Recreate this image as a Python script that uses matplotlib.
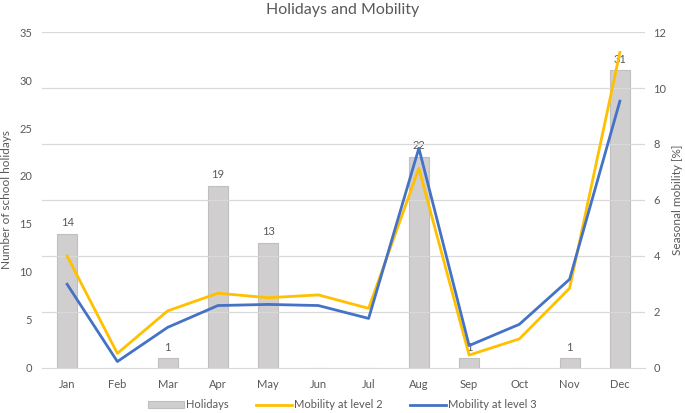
import numpy as np
import matplotlib
matplotlib.use("Agg")
import matplotlib.pyplot as plt

months = ['Jan', 'Feb', 'Mar', 'Apr', 'May', 'Jun', 'Jul', 'Aug', 'Sep', 'Oct', 'Nov', 'Dec']
holidays = [14, 0, 1, 19, 13, 0, 0, 22, 1, 0, 1, 31]
mobility_l2 = [4.0, 0.52, 2.04, 2.67, 2.51, 2.61, 2.13, 7.13, 0.46, 1.04, 2.85, 11.27]
mobility_l3 = [2.99, 0.23, 1.45, 2.23, 2.27, 2.23, 1.77, 7.85, 0.80, 1.56, 3.17, 9.53]

plt.rcParams['font.family'] = ['Lato', 'DejaVu Sans']
txt = '#595959'
grid = '#d9d9d9'

fig = plt.figure(figsize=(6.85, 4.13), dpi=100)
ax = fig.add_axes([0.0613, 0.109, 0.8803, 0.8135])
ax2 = ax.twinx()

x = np.arange(len(months))
bars = ax.bar(x, holidays, width=0.4, color='#d0cece', edgecolor='#bfbfbf',
              linewidth=0.8, label='Holidays', zorder=2)
for xi, h in zip(x, holidays):
    if h > 0:
        ax.text(xi, h + 0.6, str(h), ha='center', va='bottom', fontsize=8, color=txt, zorder=1)

l2, = ax2.plot(x, mobility_l2, color='#ffc000', linewidth=2, label='Mobility at level 2')
l3, = ax2.plot(x, mobility_l3, color='#4472c4', linewidth=2, label='Mobility at level 3')

ax.set_xlim(-0.5, 11.5)
ax.set_ylim(0, 35)
ax2.set_ylim(0, 12)
ax.set_yticks(range(0, 36, 5))
ax2.set_yticks(range(0, 13, 2))
ax.set_xticks(x)
ax.set_xticklabels(months)

# gridlines follow the secondary axis
for v in range(2, 13, 2):
    ax2.axhline(v, color=grid, linewidth=0.9, zorder=0)

for a in (ax, ax2):
    for s in a.spines.values():
        s.set_visible(False)
    a.tick_params(length=0, labelsize=8, colors=txt)
ax.spines['bottom'].set_visible(True)
ax.spines['bottom'].set_color(grid)
ax.tick_params(axis='x', pad=8)
ax.tick_params(axis='y', pad=7)
ax2.tick_params(axis='y', pad=6)

ax.set_ylabel('Number of school holidays', fontsize=8.5, color=txt)
ax2.set_ylabel('Seasonal mobility [%]', fontsize=8.5, color=txt)
ax.yaxis.set_label_coords(-0.05, 0.5)
ax2.yaxis.set_label_coords(1.045, 0.5)
fig.text(0.5, 0.975, 'Holidays and Mobility', ha='center', va='center', fontsize=11.5, color=txt)

fig.legend(handles=[bars, l2, l3], loc='center', bbox_to_anchor=(0.5, 0.02), ncol=3,
           frameon=False, fontsize=8, labelcolor=txt, handlelength=3.2,
           handletextpad=0.2, columnspacing=2.5, handleheight=0.6)

fig.savefig('out.png', dpi=100)
